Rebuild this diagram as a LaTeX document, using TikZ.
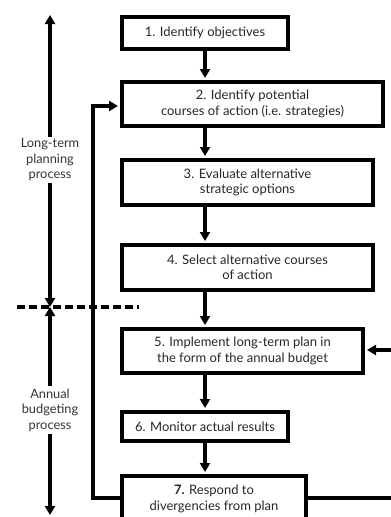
\documentclass[tikz,border=0pt]{standalone}
\usepackage{fontspec}
\setmainfont{Lato}
\usetikzlibrary{arrows.meta}

\tikzset{
  stepbox/.style={draw, line width=4pt, align=center, inner sep=0pt,
    font=\fontsize{13}{15.5}\selectfont, text=black!85},
  flow/.style={line width=3.5pt, -{Triangle[width=10pt,length=9pt]}},
  link/.style={line width=3.5pt},
  phase/.style={align=center, inner sep=2pt, text=black!80,
    font=\fontsize{12.8}{15.5}\selectfont},
  divider/.style={line width=4pt, dash pattern=on 8pt off 4pt}
}

\begin{document}
\begin{tikzpicture}[x=1pt,y=-1pt]
\useasboundingbox (0,0) rectangle (391,517);
\clip (0,0) rectangle (391,517);

% process steps
\node[stepbox, minimum width=166pt, minimum height=32pt] (b1) at (205,33)
  {1. Identify objectives};
\node[stepbox, minimum width=261pt, minimum height=44pt] (b2) at (252.5,104)
  {2. Identify potential\\courses of action (i.e. strategies)};
\node[stepbox, minimum width=251pt, minimum height=45pt] (b3) at (247.5,182.5)
  {3. Evaluate alternative\\strategic options};
\node[stepbox, minimum width=251pt, minimum height=45pt] (b4) at (247.5,267.5)
  {4. Select alternative courses\\of action};
\node[stepbox, minimum width=241pt, minimum height=44pt] (b5) at (242.5,351)
  {5. Implement long-term plan in\\the form of the annual budget};
\node[stepbox, minimum width=166pt, minimum height=29pt] (b6) at (205,426.5)
  {6. Monitor actual results};
\node[stepbox, minimum width=184pt, minimum height=46pt] (b7) at (214,499)
  {\textbf{7.} Respond to\\divergencies from plan};

% main flow
\draw[flow, shorten >=2pt] (b1.south) -- (b1.south |- b2.north);
\draw[flow, shorten >=2pt] (b2.south -| b1.south) -- (b3.north -| b1.south);
\draw[flow, shorten >=2pt] (b3.south -| b1.south) -- (b4.north -| b1.south);
\draw[flow, shorten >=2pt] (b4.south -| b1.south) -- (b5.north -| b1.south);
\draw[flow, shorten >=2pt] (b5.south -| b1.south) -- (b6.north -| b1.south);
\draw[flow, shorten >=2pt] (b6.south -| b1.south) -- (b7.north -| b1.south);

% feedback loop from step 7 back to step 2
\coordinate (fbTop) at (93,106);
\draw[link] (b7.west |- 0,498) -| (fbTop);
\draw[flow, shorten >=2pt] ([xshift=-1.75pt]fbTop) -- (b2.west |- fbTop);

% links to the right edge
\coordinate (outR) at (391,498);
\coordinate (inR) at (391,350);
\draw[link] (b7.east |- outR) -- (outR);
\draw[flow, shorten >=2pt] (inR) -- (b5.east |- inR);

% phase divider
\coordinate (dL) at (17,307);
\coordinate (dR) at (139,307);
\coordinate (dM) at (50,307);
\draw[divider] (dL) -- (dR);

% phase labels and their extents
\node[phase] (lt) at (50,160) {Long-term\\planning\\process};
\node[phase] (ab) at (50,410) {Annual\\budgeting\\process};
\coordinate (topEnd) at (50,15);
\coordinate (botEnd) at (50,515);
\draw[flow] (lt.north) -- (topEnd);
\draw[flow] (lt.south) -- (dM);
\draw[flow] (ab.north) -- (dM);
\draw[flow] (ab.south) -- (botEnd);
\end{tikzpicture}
\end{document}
